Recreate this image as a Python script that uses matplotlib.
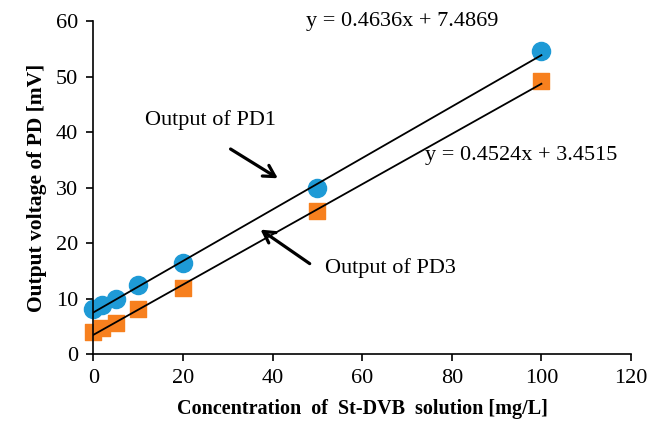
import numpy as np
import matplotlib
matplotlib.use('Agg')
import matplotlib.pyplot as plt

# concentration of St-DVB solution [mg/L]
conc = [0, 2, 5, 10, 20, 50, 100]
# output voltages [mV]
pd1 = [8.05, 8.8, 10.0, 12.4, 16.4, 30.0, 54.6]
pd3 = [4.0, 4.6, 5.6, 8.05, 11.9, 25.8, 49.2]

# linear trendlines (slope, intercept) as shown on the chart
fit_pd1 = [0.4636, 7.4869]
fit_pd3 = [0.4524, 3.4515]

plt.rcParams['font.family'] = ['Liberation Serif', 'DejaVu Serif']

fig = plt.figure(figsize=(6.49, 4.34), dpi=100)
ax = fig.add_axes([0.1438, 0.1843, 0.8285, 0.7673])

ax.scatter(conc, pd1, s=170, marker='o', color='#1E9AD6', zorder=2, clip_on=False)
ax.scatter(conc, pd3, s=135, marker='s', color='#F7801E', zorder=2, clip_on=False)

xs = np.array([0, 100])
ax.plot(xs, fit_pd1[0] * xs + fit_pd1[1], color='black', lw=1.3, zorder=3)
ax.plot(xs, fit_pd3[0] * xs + fit_pd3[1], color='black', lw=1.3, zorder=3)

ax.text(47.5, 59.9, 'y = %.4fx + %.4f' % (fit_pd1[0], fit_pd1[1]),
        fontsize=16, va='center', ha='left', clip_on=False)
ax.text(74, 35.8, 'y = %.4fx + %.4f' % (fit_pd3[0], fit_pd3[1]),
        fontsize=16, va='center', ha='left')

ax.text(11.5, 42.2, 'Output of PD1', fontsize=16, va='center', ha='left')
ax.text(51.7, 15.4, 'Output of PD3', fontsize=16, va='center', ha='left')

arrow = dict(arrowstyle='->,head_length=0.8,head_width=0.45', color='black', lw=2.3)
ax.annotate('', xy=(41.7, 31.4), xytext=(30.1, 37.2), arrowprops=arrow)
ax.annotate('', xy=(36.8, 22.7), xytext=(48.8, 16.0), arrowprops=arrow)

ax.set_xlim(0, 120)
ax.set_ylim(0, 60)
ax.set_xticks(range(0, 121, 20))
ax.set_yticks(range(0, 61, 10))
ax.tick_params(direction='out', length=5, width=1.2, labelsize=16,
               colors='black', pad=6)
for side in ['top', 'right']:
    ax.spines[side].set_visible(False)
for side in ['left', 'bottom']:
    ax.spines[side].set_linewidth(1.2)

ax.set_xlabel('Concentration  of  St-DVB  solution [mg/L]', fontsize=14.5,
              fontweight='bold', labelpad=8)
ax.set_ylabel('Output voltage of PD [mV]', fontsize=15.5, fontweight='bold',
              labelpad=6)

plt.savefig('out.png', dpi=100)
